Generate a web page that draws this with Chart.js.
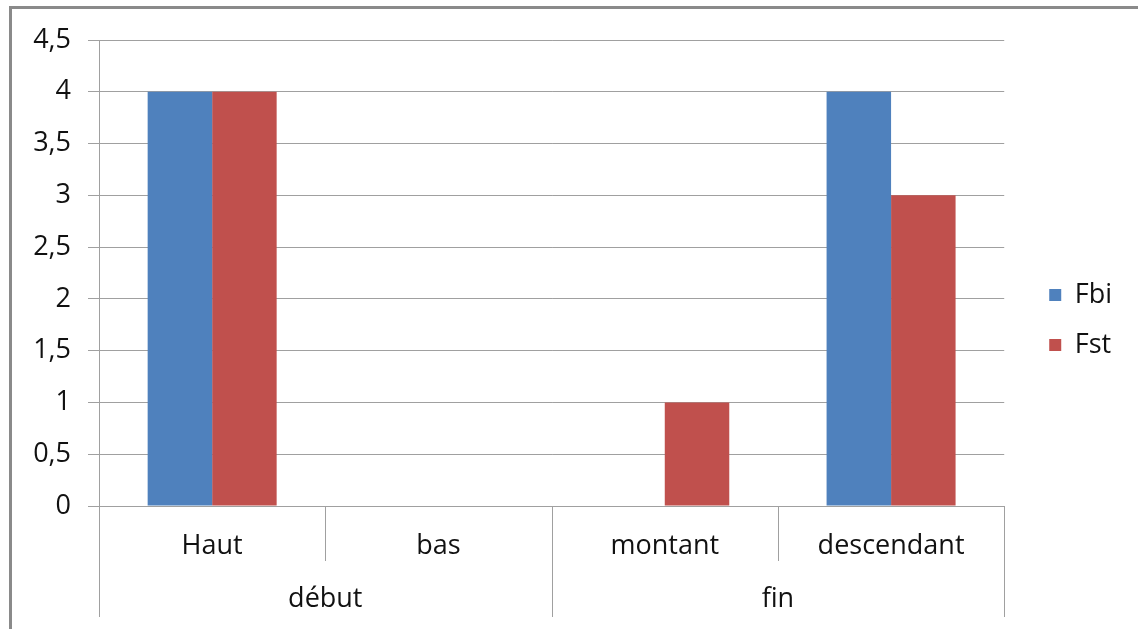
<!DOCTYPE html>
<html>
<head>
<meta charset="utf-8">
<script src="https://cdn.jsdelivr.net/npm/chart.js@4/dist/chart.umd.min.js"></script>
<style>
	html, body { margin: 0; padding: 0; background: #fff; }
	canvas { display: block; }
</style>
</head>
<body>
<canvas id="myChart" width="1138" height="629"></canvas>
<script>
const categories = ['Haut', 'bas', 'montant', 'descendant'];
const groups = ['début', 'fin'];
const groupSpans = [2, 2];
const fbiValues = [4, 0, 0, 4];
const fstValues = [4, 0, 1, 3];
const yTicks = [0, 0.5, 1, 1.5, 2, 2.5, 3, 3.5, 4, 4.5];

const gridColor = '#a0a0a0';
const textColor = '#111111';

// cadre gris + separateurs de l'axe des categories
const framePlugin = {
	id: 'frame',
	beforeDraw(chart) {
		const ctx = chart.ctx;
		ctx.save();
		ctx.fillStyle = '#8a8a8a';
		ctx.fillRect(9, 6, chart.width - 9, 3);
		ctx.fillRect(9, 6, 3, chart.height - 6);
		ctx.restore();
	},
	afterDraw(chart) {
		const x = chart.scales.x;
		const x2 = chart.scales.x2;
		const ctx = chart.ctx;
		const bounds = [x.left];
		for (let i = 1; i < categories.length; i++) {
			bounds.push((x.getPixelForValue(i - 1) + x.getPixelForValue(i)) / 2);
		}
		bounds.push(x.right);
		const groupEdges = [0];
		let acc = 0;
		groupSpans.forEach(s => { acc += s; groupEdges.push(acc); });

		ctx.save();
		ctx.strokeStyle = gridColor;
		ctx.lineWidth = 1;
		bounds.forEach((bx, i) => {
			const px = Math.round(bx) + 0.5;
			const bottom = groupEdges.includes(i) ? x2.bottom : x.top + 55;
			ctx.beginPath();
			ctx.moveTo(px, x.top);
			ctx.lineTo(px, bottom);
			ctx.stroke();
		});
		ctx.restore();
	}
};

Chart.defaults.font.family = "'Open Sans', sans-serif";
Chart.defaults.font.size = 27;
Chart.defaults.color = textColor;

window.onload = () => {
	const ctx = document.getElementById('myChart').getContext('2d');
	const myChart = new Chart(ctx, {
		type: 'bar',
		data: {
			labels: categories,
			datasets: [
				{
					label: 'Fbi',
					data: fbiValues,
					backgroundColor: '#4f81bd',
					borderWidth: 0,
					xAxisID: 'x',
					yAxisID: 'y'
				},
				{
					label: 'Fst',
					data: fstValues,
					backgroundColor: '#c0504d',
					borderWidth: 0,
					xAxisID: 'x',
					yAxisID: 'y'
				}
			]
		},
		options: {
			responsive: false,
			animation: false,
			devicePixelRatio: 1,
			categoryPercentage: 0.57,
			barPercentage: 1,
			layout: {
				padding: { left: 14, right: 16, top: 23, bottom: 12 }
			},
			plugins: {
				legend: {
					position: 'right',
					labels: {
						boxWidth: 12,
						boxHeight: 12,
						padding: 23,
						color: textColor
					}
				},
				tooltip: { enabled: false }
			},
			scales: {
				x: {
					type: 'category',
					position: 'bottom',
					grid: { display: false, drawTicks: false },
					border: { color: gridColor, width: 1 },
					ticks: { padding: 24, maxRotation: 0, autoSkip: false },
					afterFit: s => { s.height = 77; }
				},
				x2: {
					type: 'category',
					position: 'bottom',
					labels: groups,
					offset: true,
					grid: { display: false, drawTicks: false },
					border: { display: false },
					ticks: { padding: 0, maxRotation: 0, autoSkip: false },
					afterFit: s => { s.height = 34; }
				},
				xt: {
					type: 'category',
					position: 'top',
					grid: { display: false, drawTicks: false },
					border: { display: false },
					ticks: { display: false },
					afterFit: s => { s.height = 17; }
				},
				y: {
					type: 'linear',
					position: 'left',
					min: 0,
					max: 4.5,
					afterBuildTicks: s => { s.ticks = yTicks.map(v => ({ value: v })); },
					grid: { color: gridColor, tickLength: 11, tickColor: gridColor },
					border: { color: gridColor, width: 1 },
					ticks: {
						padding: 17,
						callback: v => String(v).replace('.', ',')
					},
					afterFit: s => { s.width = 85; }
				},
				yr: {
					type: 'linear',
					position: 'right',
					grid: { display: false, drawTicks: false },
					border: { display: false },
					ticks: { display: false },
					afterFit: s => { s.width = 22; }
				}
			}
		},
		plugins: [framePlugin]
	});
};
</script>
</body>
</html>
